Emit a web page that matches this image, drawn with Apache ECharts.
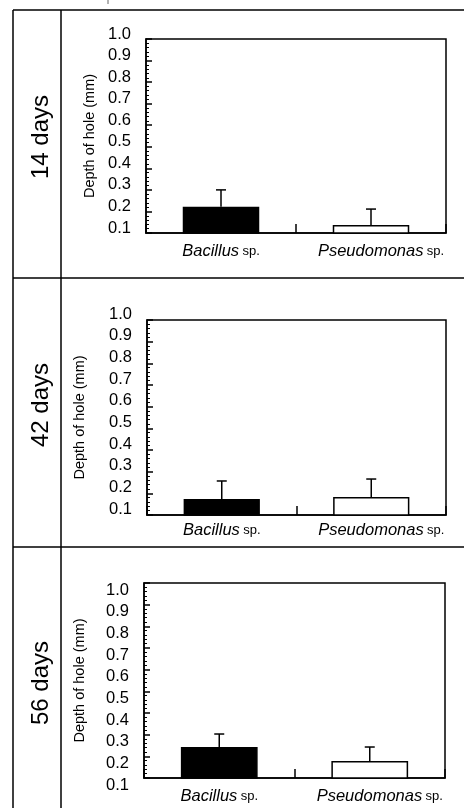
<!DOCTYPE html>
<html>
<head>
<meta charset="utf-8">
<script src="https://cdn.jsdelivr.net/npm/echarts@6/dist/echarts.min.js"></script>
<style>html,body{margin:0;padding:0;background:#fff;}#c{width:464px;height:811px;}</style>
</head>
<body>
<div id="c"></div>
<script>
// ---- data ----
var categories = ['Bacillus', 'Pseudomonas'];
var panelLabels = ['14 days', '42 days', '56 days'];
var bacillusMean = [0.222, 0.174, 0.243];
var bacillusUpper = [0.300, 0.257, 0.303];
var pseudomonasMean = [0.137, 0.183, 0.178];
var pseudomonasUpper = [0.211, 0.266, 0.243];
var yTicks = [0.1, 0.2, 0.3, 0.4, 0.5, 0.6, 0.7, 0.8, 0.9, 1.0];

// ---- layout ----
var FONT = 'Liberation Sans, Arial, Helvetica, sans-serif';
var grids = [
  {left: 146, top: 39, width: 300, height: 194, nameGap: 49, labShift: -5, catMargin: 10},
  {left: 147, top: 320, width: 299, height: 195, nameGap: 60, labShift: -6, catMargin: 7},
  {left: 144, top: 583, width: 301, height: 195, nameGap: 57, labShift: 7, catMargin: 10}
];
var dayCenters = [137, 405, 683];

var option = {
  animation: false,
  backgroundColor: '#fff',
  grid: [], xAxis: [], yAxis: [], series: [], graphic: []
};

grids.forEach(function (g, i) {
  option.grid.push({left: g.left, top: g.top, width: g.width, height: g.height,
    show: true, borderColor: '#000', borderWidth: 1.5, backgroundColor: 'transparent'});
  option.xAxis.push({
    type: 'category', gridIndex: i, data: categories,
    axisLine: {lineStyle: {color: '#000', width: 1.5}},
    axisTick: {show: true, inside: true, length: 9, interval: 0, lineStyle: {color: '#000', width: 1.5}},
    axisLabel: {
      margin: g.catMargin, interval: 0,
      formatter: function (v, idx) {
        return idx === 1 ? '{p|' + v + '} {s|sp.}' : '{i|' + v + '} {s|sp.}';
      },
      rich: {
        i: {fontFamily: FONT, fontStyle: 'italic', fontSize: 16.5, color: '#000'},
        p: {fontFamily: FONT, fontStyle: 'italic', fontSize: 16.5, color: '#000', padding: [0, 0, 0, 20]},
        s: {fontFamily: FONT, fontSize: 13, color: '#000'}
      }
    },
    splitLine: {show: false}
  });
  var va = g.labShift < 0 ? 'bottom' : 'top';
  option.yAxis.push({
    type: 'value', gridIndex: i, min: 0.1, max: 1.0, interval: 0.1,
    name: 'Depth of hole (mm)', nameLocation: 'middle', nameGap: g.nameGap,
    nameTextStyle: {fontFamily: FONT, fontSize: 14.5, color: '#000'},
    axisLine: {show: true, lineStyle: {color: '#000', width: 1.5}},
    axisTick: {show: true, inside: true, length: 6, lineStyle: {color: '#000', width: 1.5}},
    minorTick: {show: true, splitNumber: 5, length: 3, lineStyle: {color: '#000', width: 1}},
    splitLine: {show: false},
    axisLabel: {
      margin: 15, fontFamily: FONT, fontSize: 16.5, color: '#000',
      verticalAlign: va, lineHeight: 2 * Math.abs(g.labShift),
      formatter: function (v) {
        var r = Math.round(v * 10) / 10;
        return yTicks.indexOf(r) >= 0 ? r.toFixed(1) : '';
      }
    }
  });
  option.series.push({
    type: 'bar', xAxisIndex: i, yAxisIndex: i, barWidth: '51%',
    data: [
      {value: bacillusMean[i], itemStyle: {color: '#000', borderColor: '#000', borderWidth: 1.5}},
      {value: pseudomonasMean[i], itemStyle: {color: '#fff', borderColor: '#000', borderWidth: 1.5}}
    ]
  });
  option.series.push({
    type: 'custom', xAxisIndex: i, yAxisIndex: i, z: 5,
    data: [[0, bacillusMean[i], bacillusUpper[i]], [1, pseudomonasMean[i], pseudomonasUpper[i]]],
    renderItem: function (params, api) {
      var base = api.coord([api.value(0), api.value(1)]);
      var top = api.coord([api.value(0), api.value(2)]);
      var st = {stroke: '#000', lineWidth: 1.5};
      return {type: 'group', children: [
        {type: 'line', shape: {x1: base[0], y1: base[1], x2: top[0], y2: top[1]}, style: st},
        {type: 'line', shape: {x1: top[0] - 5, y1: top[1], x2: top[0] + 5, y2: top[1]}, style: st}
      ]};
    }
  });
  option.graphic.push({
    type: 'text', x: 41, y: dayCenters[i], rotation: Math.PI / 2,
    style: {text: panelLabels[i], fontFamily: FONT, fontSize: 24, fill: '#000',
      textAlign: 'center', textVerticalAlign: 'middle'}
  });
});

// table frame lines
var lineStyle = {stroke: '#000', lineWidth: 1.5};
[10, 278, 547].forEach(function (y) {
  option.graphic.push({type: 'line', shape: {x1: 13, y1: y, x2: 464, y2: y}, style: lineStyle});
});
[13, 61].forEach(function (x) {
  option.graphic.push({type: 'line', shape: {x1: x, y1: 10, x2: x, y2: 808}, style: lineStyle});
});
option.graphic.push({type: 'line', shape: {x1: 108, y1: 0, x2: 108, y2: 4}, style: {stroke: '#666', lineWidth: 1}});

var chart = echarts.init(document.getElementById('c'), null, {renderer: 'canvas'});
chart.setOption(option);
</script>
</body>
</html>
